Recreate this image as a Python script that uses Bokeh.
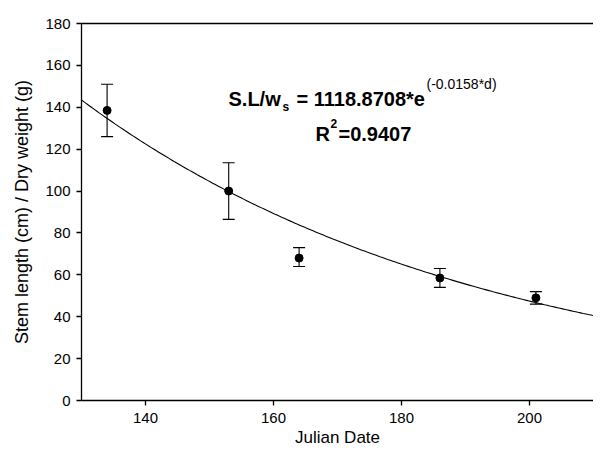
import numpy as np
from bokeh.plotting import figure
from bokeh.models import (Range1d, Whisker, TeeHead, ColumnDataSource, Label,
                          LinearAxis, FixedTicker)
from bokeh.embed import file_html
from bokeh.resources import INLINE

# ---- data ----
julian_date = [134, 153, 164, 186, 201]
ratio = [138.5, 100.0, 68.0, 58.5, 49.0]
err_low = [126.0, 86.5, 64.0, 54.0, 46.0]
err_high = [151.0, 113.5, 73.0, 63.0, 52.0]
fit_a = 1118.8708
fit_b = -0.0158
x_ticks = [140, 160, 180, 200]
y_ticks = [0, 20, 40, 60, 80, 100, 120, 140, 160, 180]

FONT = "Liberation Sans"
W, H = 593, 451
FL, FR, FT, FB = 81, 593, 23, 400  # frame edges in canvas px

p = figure(width=W, height=H, x_range=Range1d(130, 210), y_range=Range1d(0, 180),
           output_backend="svg", toolbar_location=None,
           min_border_left=FL, min_border_right=0, min_border_top=FT,
           min_border_bottom=H - FB)
p.outline_line_color = None
p.grid.visible = False
p.background_fill_color = "white"
p.border_fill_color = "white"

for ax in (p.xaxis[0], p.yaxis[0]):
    ax.axis_line_color = "black"
    ax.axis_line_width = 1.3
    ax.major_tick_line_color = "black"
    ax.major_tick_line_width = 1.3
    ax.major_tick_in = 0
    ax.major_tick_out = 5
    ax.minor_tick_line_color = None
    ax.major_label_text_font = FONT
    ax.major_label_text_font_size = "15px"
    ax.major_label_text_color = "black"
    ax.axis_label_text_font = FONT
    ax.axis_label_text_font_style = "normal"
    ax.axis_label_text_color = "black"

p.xaxis.ticker = FixedTicker(ticks=x_ticks)
p.yaxis.ticker = FixedTicker(ticks=y_ticks)
p.xaxis.major_label_standoff = 7
p.xaxis.axis_label = "Julian Date"
p.xaxis.axis_label_text_font_size = "17px"
p.xaxis.axis_label_standoff = 2
p.yaxis.axis_label = "Stem length (cm) / Dry weight (g)"
p.yaxis.axis_label_text_font_size = "18px"
p.yaxis.major_label_standoff = 6
p.yaxis.axis_label_standoff = 10

top_axis = LinearAxis(ticker=FixedTicker(ticks=[]), major_label_text_font_size="0px",
                      major_tick_in=0, major_tick_out=0, minor_tick_line_color=None,
                      axis_line_color="black", axis_line_width=1.3)
p.add_layout(top_axis, "above")

# fitted curve from the equation shown on the chart
xs = np.linspace(130, 210, 200)
p.line(xs, fit_a * np.exp(fit_b * xs), line_color="black", line_width=1.1)

src = ColumnDataSource(dict(x=julian_date, y=ratio, lo=err_low, hi=err_high))
p.add_layout(Whisker(base="x", lower="lo", upper="hi", source=src,
                     line_color="black", line_width=1.1,
                     upper_head=TeeHead(size=12, line_color="black", line_width=1.1),
                     lower_head=TeeHead(size=12, line_color="black", line_width=1.1)))
p.scatter("x", "y", source=src, size=8, color="black")


def at(px, py):
    x = 130 + (px - FL) / (FR - FL) * 80
    y = (FB - py) / (FB - FT) * 180
    return x, y


def lab(text, px, py, size, bold=True, align="left"):
    x, y = at(px, py)
    p.add_layout(Label(x=x, y=y, text=text, text_font=FONT, text_font_size=size,
                       text_font_style="bold" if bold else "normal",
                       text_color="black", text_align=align,
                       text_baseline="alphabetic"))


lab("S.L/w", 228, 98, "20px")
lab("s", 282, 106, "12px")
lab("= 1118.8708*e", 296, 98, "20px")
lab("(-0.0158*d)", 426, 83, "14px", bold=False)
lab("R", 315, 133, "20px")
lab("2", 330, 123, "12px")
lab("=0.9407", 338, 133, "20px")

open("out.html", "w").write(file_html(p, INLINE))
